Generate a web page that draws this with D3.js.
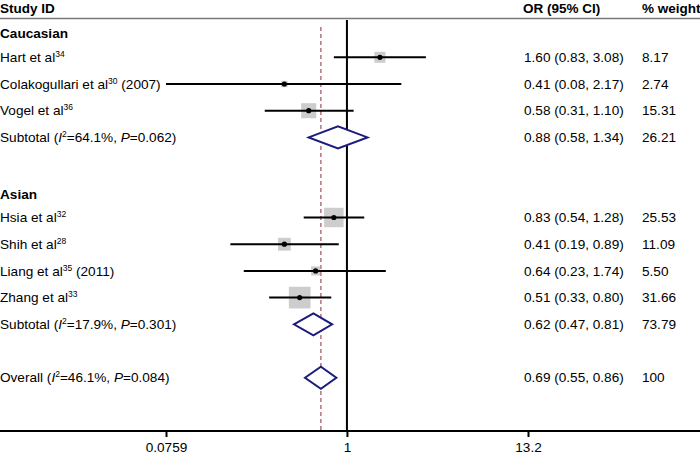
<!DOCTYPE html>
<html>
<head>
<meta charset="utf-8">
<script src="https://cdn.jsdelivr.net/npm/d3@7"></script>
<style>
  body { margin: 0; background: #fff; }
  svg { display: block; font-family: "Liberation Sans", Arial, sans-serif; }
</style>
</head>
<body>
<div id="chart"></div>
<script>
var width = 700;
var height = 456;
var fs = 13.6;

// study level data
var studyNames = ["Hart et al", "Colakogullari et al", "Vogel et al", "Hsia et al", "Shih et al", "Liang et al", "Zhang et al"];
var studyRefs = ["34", "30", "36", "32", "28", "35", "33"];
var studySuffix = ["", " (2007)", "", "", "", " (2011)", ""];
var studyGroup = ["Caucasian", "Caucasian", "Caucasian", "Asian", "Asian", "Asian", "Asian"];
var studyOR = [1.60, 0.41, 0.58, 0.83, 0.41, 0.64, 0.51];
var studyLo = [0.83, 0.0759, 0.31, 0.54, 0.19, 0.23, 0.33];
var studyHi = [3.08, 2.17, 1.10, 1.28, 0.89, 1.74, 0.80];
var studyWeight = ["8.17", "2.74", "15.31", "25.53", "11.09", "5.50", "31.66"];

// pooled estimates
var groups = ["Caucasian", "Asian"];
var pooledLabel = ["Subtotal", "Subtotal", "Overall"];
var pooledI2 = ["64.1%", "17.9%", "46.1%"];
var pooledP = ["0.062", "0.301", "0.084"];
var pooledOR = [0.88, 0.62, 0.69];
var pooledLo = [0.58, 0.47, 0.55];
var pooledHi = [1.34, 0.81, 0.86];
var pooledWeight = ["26.21", "73.79", "100"];

// axis ticks
var tickValues = [0.0759, 1, 13.2];
var tickLabels = ["0.0759", "1", "13.2"];

// row number of every line in the plot
var groupRows = [0, 6];
var studyRows = [1, 2, 3, 7, 8, 9, 10];
var pooledRows = [4, 11, 13];

var svg = d3.select("#chart").append("svg")
    .attr("width", width)
    .attr("height", height);

var x = d3.scaleLog()
    .domain([0.0759, 13.2])
    .range([166, 528]);

var y = d3.scaleLinear()
    .domain([0, 13])
    .range([30.6, 377.7]);

var boxSize = d3.scaleSqrt()
    .domain([0, 31.66])
    .range([0, 21.7]);

var axisY = 431;

function fmt(v) { return v.toFixed(2); }

// header
svg.append("text").attr("x", 0).attr("y", 13)
    .attr("font-size", 13.5).attr("font-weight", "bold").text("Study ID");
svg.append("text").attr("x", 523).attr("y", 13)
    .attr("font-size", 13.5).attr("font-weight", "bold").text("OR (95% CI)");
svg.append("text").attr("x", 642).attr("y", 13)
    .attr("font-size", 13.5).attr("font-weight", "bold").text("% weight");
svg.append("line")
    .attr("x1", 0).attr("x2", width).attr("y1", 18.5).attr("y2", 18.5)
    .attr("stroke", "#7a7a7a").attr("stroke-width", 1.5);

// reference lines
svg.append("line")
    .attr("x1", x(1)).attr("x2", x(1)).attr("y1", 20).attr("y2", axisY)
    .attr("stroke", "#000").attr("stroke-width", 2);
svg.append("line")
    .attr("x1", x(pooledOR[2])).attr("x2", x(pooledOR[2])).attr("y1", 27).attr("y2", axisY)
    .attr("stroke", "#a0505a").attr("stroke-width", 1.2)
    .attr("stroke-dasharray", "4,3");

// group labels
svg.selectAll(".grp")
    .data(groups)
    .enter().append("text")
    .attr("class", "grp")
    .attr("x", 0)
    .attr("y", function(d, i) { return y(groupRows[i]) + 3; })
    .attr("dy", "0.35em")
    .attr("font-size", fs).attr("font-weight", "bold")
    .text(function(d) { return d; });

// study labels with superscript refs
var lab = svg.selectAll(".study")
    .data(studyNames)
    .enter().append("text")
    .attr("class", "study")
    .attr("x", 0)
    .attr("y", function(d, i) { return y(studyRows[i]); })
    .attr("dy", "0.35em")
    .attr("font-size", fs);
lab.append("tspan").text(function(d) { return d; });
lab.append("tspan").attr("font-size", 8.5).attr("dy", "-5")
    .text(function(d, i) { return studyRefs[i]; });
lab.append("tspan").attr("dy", "5")
    .text(function(d, i) { return studySuffix[i]; });

// pooled labels
var plab = svg.selectAll(".pooled")
    .data(pooledLabel)
    .enter().append("text")
    .attr("class", "pooled")
    .attr("x", 0)
    .attr("y", function(d, i) { return y(pooledRows[i]); })
    .attr("dy", "0.35em")
    .attr("font-size", fs);
plab.append("tspan").text(function(d) { return d + " ("; });
plab.append("tspan").attr("font-style", "italic").text("I");
plab.append("tspan").attr("font-size", 8.5).attr("dy", "-5").text("2");
plab.append("tspan").attr("dy", "5").text(function(d, i) { return "=" + pooledI2[i] + ", "; });
plab.append("tspan").attr("font-style", "italic").text("P");
plab.append("tspan").text(function(d, i) { return "=" + pooledP[i] + ")"; });

// weight boxes
svg.selectAll(".box")
    .data(studyOR)
    .enter().append("rect")
    .attr("class", "box")
    .attr("x", function(d, i) { return x(d) - boxSize(+studyWeight[i]) / 2; })
    .attr("y", function(d, i) { return y(studyRows[i]) - boxSize(+studyWeight[i]) / 2; })
    .attr("width", function(d, i) { return boxSize(+studyWeight[i]); })
    .attr("height", function(d, i) { return boxSize(+studyWeight[i]); })
    .attr("fill", "#cdcdcd");

// CI lines
svg.selectAll(".ci")
    .data(studyOR)
    .enter().append("line")
    .attr("class", "ci")
    .attr("x1", function(d, i) { return x(studyLo[i]); })
    .attr("x2", function(d, i) { return x(studyHi[i]); })
    .attr("y1", function(d, i) { return y(studyRows[i]); })
    .attr("y2", function(d, i) { return y(studyRows[i]); })
    .attr("stroke", "#000").attr("stroke-width", 2);

// point estimates
svg.selectAll(".dot")
    .data(studyOR)
    .enter().append("circle")
    .attr("class", "dot")
    .attr("cx", function(d) { return x(d); })
    .attr("cy", function(d, i) { return y(studyRows[i]); })
    .attr("r", 2.6)
    .attr("fill", "#000");

// diamonds
svg.selectAll(".diamond")
    .data(pooledOR)
    .enter().append("polygon")
    .attr("class", "diamond")
    .attr("points", function(d, i) {
        var cy = y(pooledRows[i]), h = 11;
        return [[x(pooledLo[i]), cy], [x(d), cy - h], [x(pooledHi[i]), cy], [x(d), cy + h]].join(" ");
    })
    .attr("fill", "#fff")
    .attr("stroke", "#1c1c7c").attr("stroke-width", 2);

// OR text and weights
svg.selectAll(".ortxt")
    .data(studyOR.concat(pooledOR))
    .enter().append("text")
    .attr("class", "ortxt")
    .attr("x", 524)
    .attr("y", function(d, i) { return y(studyRows.concat(pooledRows)[i]); })
    .attr("dy", "0.35em")
    .attr("font-size", fs)
    .text(function(d, i) {
        var lo = studyLo.concat(pooledLo)[i], hi = studyHi.concat(pooledHi)[i];
        return fmt(d) + " (" + fmt(lo) + ", " + fmt(hi) + ")";
    });

svg.selectAll(".wtxt")
    .data(studyWeight.concat(pooledWeight))
    .enter().append("text")
    .attr("class", "wtxt")
    .attr("x", 642)
    .attr("y", function(d, i) { return y(studyRows.concat(pooledRows)[i]); })
    .attr("dy", "0.35em")
    .attr("font-size", fs)
    .text(function(d) { return d; });

// x axis
var axisG = svg.append("g").attr("transform", "translate(0," + axisY + ")");
axisG.append("line").attr("x1", 0).attr("x2", width)
    .attr("stroke", "#000").attr("stroke-width", 2);
axisG.call(d3.axisBottom(x).tickValues(tickValues)
        .tickFormat(function(d, i) { return tickLabels[i]; })
        .tickSize(6).tickSizeOuter(0))
    .call(function(g) { g.select(".domain").remove(); })
    .call(function(g) {
        g.selectAll(".tick line").attr("stroke-width", 2);
        g.selectAll(".tick text").attr("font-size", fs)
            .attr("font-family", "Liberation Sans, Arial, sans-serif")
            .attr("fill", "#000").attr("y", 11);
    });
</script>
</body>
</html>
